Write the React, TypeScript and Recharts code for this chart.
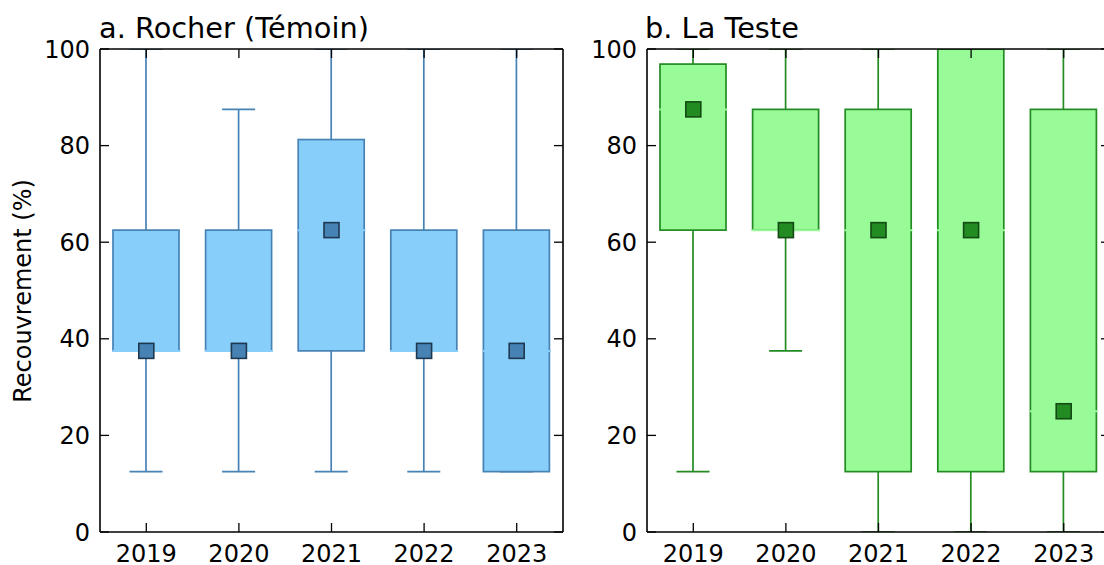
import React from "react";
import { ComposedChart, Bar, Scatter, XAxis, YAxis } from "recharts";

// categories
const years = ["2019", "2020", "2021", "2022", "2023"];
const yTicks = [0, 20, 40, 60, 80, 100];

// a. Rocher (Témoin)
const rocherLow = [12.5, 12.5, 12.5, 12.5, 12.5];
const rocherQ1 = [37.5, 37.5, 37.5, 37.5, 12.5];
const rocherMedian = [37.5, 37.5, 62.5, 37.5, 37.5];
const rocherQ3 = [62.5, 62.5, 81.25, 62.5, 62.5];
const rocherHigh = [100, 87.5, 100, 100, 100];

// b. La Teste
const testeLow = [12.5, 37.5, 0, 0, 0];
const testeQ1 = [62.5, 62.5, 12.5, 12.5, 12.5];
const testeMedian = [87.5, 62.5, 62.5, 62.5, 25];
const testeQ3 = [96.875, 87.5, 87.5, 100, 87.5];
const testeHigh = [100, 100, 100, 100, 100];

const FONT = "'DejaVu Sans', sans-serif";
const BOX_W = 66;
const CHART_W = 600;
const CHART_H = 565;

interface Row {
  year: string;
  low: number;
  q1: number;
  median: number;
  q3: number;
  high: number;
}

const buildRows = (
  low: number[],
  q1: number[],
  median: number[],
  q3: number[],
  high: number[]
): Row[] =>
  years.map((year, i) => ({
    year,
    low: low[i],
    q1: q1[i],
    median: median[i],
    q3: q3[i],
    high: high[i],
  }));

const rocherRows = buildRows(rocherLow, rocherQ1, rocherMedian, rocherQ3, rocherHigh);
const testeRows = buildRows(testeLow, testeQ1, testeMedian, testeQ3, testeHigh);

// empty tick label, keeps the tick line on the inner axes
const NoLabel = () => <g />;

interface PanelProps {
  rows: Row[];
  fill: string;
  edge: string;
  markerEdge: string;
}

const Panel = ({ rows, fill, edge, markerEdge }: PanelProps) => {
  const whisker = (p: any) => {
    const { x, y, width, height } = p;
    const cx = x + width / 2;
    const cap = width / 4;
    return (
      <g stroke={edge} strokeWidth={1.7} fill="none">
        <line x1={cx} x2={cx} y1={y} y2={y + height} />
        <line x1={cx - cap} x2={cx + cap} y1={y} y2={y} />
        <line x1={cx - cap} x2={cx + cap} y1={y + height} y2={y + height} />
      </g>
    );
  };

  const box = (p: any) => {
    const { x, y, width, height } = p;
    return (
      <rect
        x={x}
        y={y}
        width={width}
        height={height}
        fill={fill}
        stroke={edge}
        strokeWidth={1.7}
      />
    );
  };

  const median = (p: any) => {
    const { cx, cy } = p;
    const s = 15;
    return (
      <g>
        <line
          x1={cx - BOX_W / 2 - 1}
          x2={cx + BOX_W / 2 + 1}
          y1={cy}
          y2={cy}
          stroke={fill}
          strokeWidth={2}
        />
        <rect
          x={cx - s / 2}
          y={cy - s / 2}
          width={s}
          height={s}
          fill={edge}
          stroke={markerEdge}
          strokeWidth={1.6}
        />
      </g>
    );
  };

  const tickFont = { fontSize: 24, fill: "#000", fontFamily: FONT };
  const inner = { stroke: "#000", strokeWidth: 1.3 };
  const spine = { stroke: "#000", strokeWidth: 1.6 };

  return (
    <ComposedChart
      width={CHART_W}
      height={CHART_H}
      data={rows}
      margin={{ top: 49, right: 37, bottom: 0, left: 40 }}
      style={{ fontFamily: FONT }}
    >
      <XAxis
        xAxisId="bottom"
        dataKey="year"
        type="category"
        height={33}
        tickSize={0}
        tickMargin={13}
        tick={tickFont}
        axisLine={spine}
        tickLine={false}
      />
      <XAxis
        xAxisId="bottomTicks"
        dataKey="year"
        type="category"
        mirror
        tick={NoLabel}
        tickSize={9}
        axisLine={false}
        tickLine={inner}
      />
      <XAxis
        xAxisId="top"
        dataKey="year"
        type="category"
        orientation="top"
        mirror
        tick={NoLabel}
        tickSize={9}
        axisLine={spine}
        tickLine={inner}
      />
      <YAxis
        yAxisId="left"
        type="number"
        domain={[0, 100]}
        ticks={yTicks}
        allowDataOverflow
        width={60}
        tickSize={0}
        tickMargin={10}
        tick={tickFont}
        axisLine={spine}
        tickLine={false}
      />
      <YAxis
        yAxisId="leftTicks"
        type="number"
        domain={[0, 100]}
        ticks={yTicks}
        allowDataOverflow
        mirror
        tick={NoLabel}
        tickSize={9}
        axisLine={false}
        tickLine={inner}
      />
      <YAxis
        yAxisId="right"
        type="number"
        orientation="right"
        domain={[0, 100]}
        ticks={yTicks}
        allowDataOverflow
        mirror
        tick={NoLabel}
        tickSize={9}
        axisLine={spine}
        tickLine={inner}
      />
      <Bar
        xAxisId="top"
        yAxisId="left"
        dataKey={(d: Row) => [d.low, d.high]}
        barSize={BOX_W}
        shape={whisker}
        isAnimationActive={false}
      />
      <Bar
        xAxisId="bottom"
        yAxisId="left"
        dataKey={(d: Row) => [d.q1, d.q3]}
        barSize={BOX_W}
        shape={box}
        isAnimationActive={false}
      />
      <Scatter
        xAxisId="bottom"
        yAxisId="left"
        dataKey="median"
        shape={median}
        isAnimationActive={false}
      />
    </ComposedChart>
  );
};

const titleStyle: React.CSSProperties = {
  position: "absolute",
  top: 14,
  fontSize: 28.8,
  lineHeight: "28px",
  fontFamily: FONT,
  color: "#000",
  whiteSpace: "nowrap",
};

export default function App() {
  return (
    <div
      style={{
        position: "absolute",
        left: 0,
        top: 0,
        width: 1104,
        height: 565,
        overflow: "hidden",
        background: "#fff",
      }}
    >
      <div style={{ position: "absolute", left: 0, top: 0 }}>
        <Panel rows={rocherRows} fill="#87CEFA" edge="#4682B4" markerEdge="#1e3850" />
      </div>
      <div style={{ position: "absolute", left: 547, top: 0 }}>
        <Panel rows={testeRows} fill="#98FB98" edge="#228B22" markerEdge="#144a14" />
      </div>
      <div style={{ ...titleStyle, left: 99 }}>a. Rocher (Témoin)</div>
      <div style={{ ...titleStyle, left: 645 }}>b. La Teste</div>
      <div
        style={{
          position: "absolute",
          left: 23,
          top: 291,
          transform: "translate(-50%, -50%) rotate(-90deg)",
          fontSize: 24,
          lineHeight: 1,
          fontFamily: FONT,
          whiteSpace: "nowrap",
          color: "#000",
        }}
      >
        Recouvrement (%)
      </div>
    </div>
  );
}
